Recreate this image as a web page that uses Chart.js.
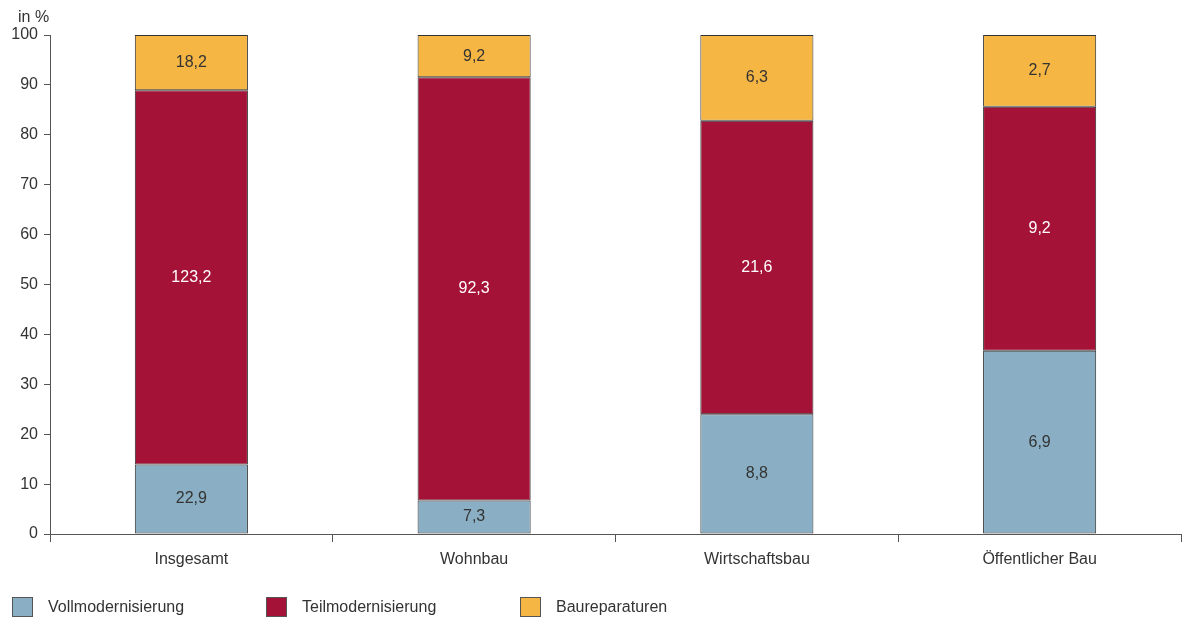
<!DOCTYPE html>
<html>
<head>
<meta charset="utf-8">
<script src="https://cdn.jsdelivr.net/npm/chart.js@4"></script>
<style>
  body { margin: 0; background: #fff; font-family: "Liberation Sans", Arial, sans-serif; }
  #wrap { position: relative; width: 1182px; height: 621px; }
  #legend { position: absolute; left: 12px; top: 597px; display: flex; }
  .item { width: 254px; display: flex; align-items: center; font-size: 16px; color: #333; }
  .box { width: 21px; height: 20px; border: 1px solid #555; margin-right: 15px; box-sizing: border-box; }
</style>
</head>
<body>
<div id="wrap">
  <canvas id="chart" width="1182" height="621"></canvas>
  <div id="legend"></div>
</div>
<script>
// Kategorien und Werte (absolut, Beschriftung in den Balken)
const categories = ["Insgesamt", "Wohnbau", "Wirtschaftsbau", "Öffentlicher Bau"];
const seriesNames = ["Vollmodernisierung", "Teilmodernisierung", "Baureparaturen"];
const vollValues = [22.9, 7.3, 8.8, 6.9];
const teilValues = [123.2, 92.3, 21.6, 9.2];
const repValues = [18.2, 9.2, 6.3, 2.7];
const yTicks = [0, 10, 20, 30, 40, 50, 60, 70, 80, 90, 100];

const colors = ["#8aafc4", "#a51237", "#f6b644"];
const labelColors = ["#333333", "#ffffff", "#333333"];

// Anteile in Prozent pro Kategorie
const totals = categories.map((_, i) => vollValues[i] + teilValues[i] + repValues[i]);
const rawSeries = [vollValues, teilValues, repValues];
const shareSeries = rawSeries.map(arr => arr.map((v, i) => v / totals[i] * 100));

const fontFamily = '"Liberation Sans", Arial, sans-serif';

// Beschriftung in der Mitte jedes Segments
const valueLabels = {
  id: "valueLabels",
  afterDatasetsDraw(chart) {
    const ctx = chart.ctx;
    ctx.save();
    ctx.font = "16px " + fontFamily;
    ctx.textAlign = "center";
    ctx.textBaseline = "middle";
    chart.data.datasets.forEach((ds, d) => {
      chart.getDatasetMeta(d).data.forEach((bar, i) => {
        const mid = (bar.y + bar.base) / 2;
        ctx.fillStyle = labelColors[d];
        ctx.fillText(rawSeries[d][i].toFixed(1).replace(".", ","), bar.x, mid);
      });
    });
    // Einheit oben links
    ctx.fillStyle = "#333";
    ctx.textAlign = "left";
    ctx.fillText("in %", 18, 18);
    ctx.restore();
  }
};

new Chart(document.getElementById("chart"), {
  type: "bar",
  plugins: [valueLabels],
  data: {
    labels: categories,
    datasets: seriesNames.map((name, d) => ({
      label: name,
      data: shareSeries[d],
      backgroundColor: colors[d],
      borderColor: "#333",
      borderWidth: 1,
      borderSkipped: false,
      categoryPercentage: 1,
      barPercentage: 0.4,
    })),
  },
  options: {
    responsive: false,
    animation: false,
    layout: { padding: { top: 35, right: 1, bottom: 41, left: 0 } },
    plugins: { legend: { display: false }, tooltip: { enabled: false } },
    scales: {
      x: {
        stacked: true,
        grid: { offset: true, drawOnChartArea: false, tickLength: 8, color: "#555" },
        border: { color: "#555" },
        ticks: { color: "#333", font: { family: fontFamily, size: 16 }, padding: 8 },
        afterFit(scale) { scale.height = 46; },
      },
      y: {
        stacked: true,
        min: 0,
        max: 100,
        afterBuildTicks(scale) { scale.ticks = yTicks.map(v => ({ value: v })); },
        grid: { drawOnChartArea: false, tickLength: 6, color: "#555" },
        border: { color: "#555" },
        ticks: { color: "#333", font: { family: fontFamily, size: 16 }, padding: 6 },
        afterFit(scale) { scale.width = 50; },
      },
    },
  },
});

// Legende
const legend = document.getElementById("legend");
seriesNames.forEach((name, d) => {
  const item = document.createElement("div");
  item.className = "item";
  item.innerHTML = `<span class="box" style="background:${colors[d]}"></span>${name}`;
  legend.appendChild(item);
});
</script>
</body>
</html>
